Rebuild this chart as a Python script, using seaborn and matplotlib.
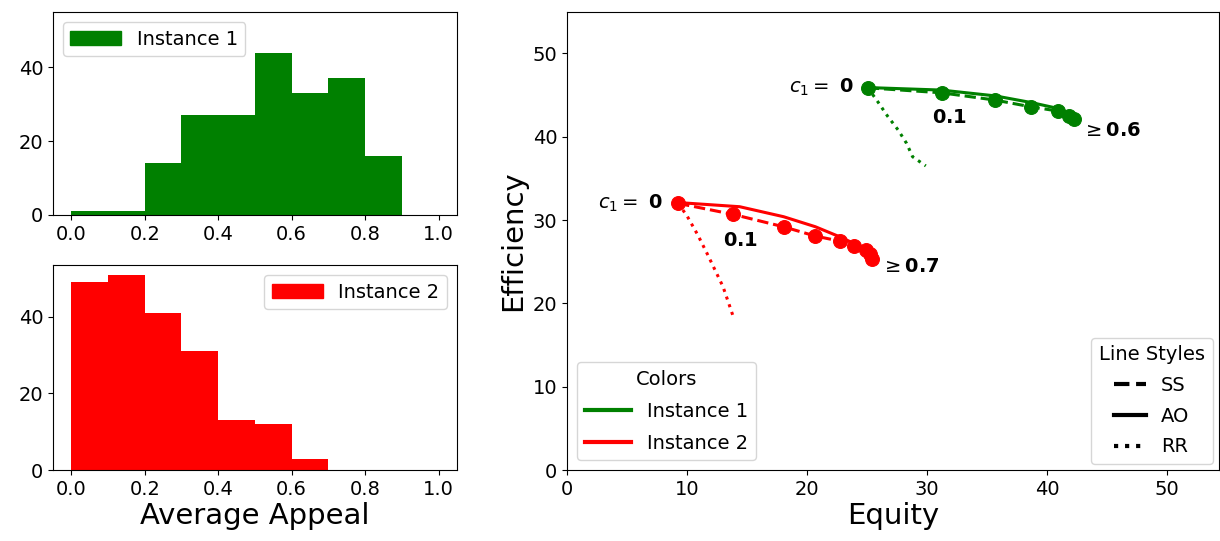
import numpy as np
import matplotlib
matplotlib.use("Agg")
import matplotlib.pyplot as plt
from matplotlib.patches import Patch
from matplotlib.lines import Line2D
import seaborn as sns

# histogram counts per 0.1 bin of average appeal
bin_edges = [0.0, 0.1, 0.2, 0.3, 0.4, 0.5, 0.6, 0.7, 0.8, 0.9, 1.0]
counts_1 = [1, 1, 14, 27, 27, 44, 33, 37, 16, 0]
counts_2 = [49, 51, 41, 31, 13, 12, 3, 0, 0, 0]

# instance 1 (green): equity / efficiency
ss1_equity = [25.07, 31.22, 35.67, 38.66, 40.93, 41.85, 42.26]
ss1_eff = [45.87, 45.27, 44.40, 43.59, 43.08, 42.48, 42.12]
ao1_equity = [25.07, 31.2, 35.7, 38.7, 40.9, 41.9, 42.4]
ao1_eff = [45.9, 45.6, 44.9, 44.1, 43.4, 42.8, 42.3]
rr1_equity = [25.07, 25.9, 26.7, 27.6, 28.3, 28.8, 29.9]
rr1_eff = [45.87, 44.2, 42.5, 40.8, 39.2, 37.6, 36.5]

# instance 2 (red)
ss2_equity = [9.26, 13.84, 18.05, 20.69, 22.71, 23.88, 24.93, 25.27, 25.40]
ss2_eff = [32.0, 30.68, 29.19, 28.08, 27.48, 26.91, 26.40, 25.92, 25.28]
ao2_equity = [9.26, 14.39, 18.05, 20.69, 22.71, 23.9, 25.07]
ao2_eff = [32.1, 31.6, 30.4, 29.2, 28.0, 27.2, 26.2]
rr2_equity = [9.26, 10.0, 10.9, 11.7, 12.4, 13.0, 13.5, 13.9]
rr2_eff = [32.0, 30.5, 28.2, 25.9, 23.8, 22.0, 19.9, 18.2]

FS = 14
LFS = 21

fig = plt.figure(figsize=(12.2, 5.41), dpi=100)
ax_top = fig.add_axes([0.0434, 0.6026, 0.3311, 0.3752])
ax_bot = fig.add_axes([0.0434, 0.1312, 0.3311, 0.3789])
ax = fig.add_axes([0.4648, 0.1312, 0.5340, 0.8471])

centers = [(a + b) / 2 for a, b in zip(bin_edges[:-1], bin_edges[1:])]

sns.histplot(x=centers, weights=counts_1, bins=bin_edges, color="green", alpha=1,
             linewidth=0, ax=ax_top)
sns.histplot(x=centers, weights=counts_2, bins=bin_edges, color="red", alpha=1,
             linewidth=0, ax=ax_bot)

for a in (ax_top, ax_bot):
    a.set_xlim(-0.05, 1.05)
    a.set_xticks([0.0, 0.2, 0.4, 0.6, 0.8, 1.0])
    a.set_yticks([0, 20, 40])
    a.set_ylabel("")
    a.set_xlabel("")
    a.tick_params(labelsize=FS)
ax_top.set_ylim(0, 55)
ax_bot.set_ylim(0, 53.55)
ax_bot.set_xlabel("Average Appeal", fontsize=LFS, labelpad=2)

ax_top.legend(handles=[Patch(color="green", label="Instance 1")], loc="upper left",
              fontsize=FS, handlelength=2.6)
ax_bot.legend(handles=[Patch(color="red", label="Instance 2")], loc="upper right",
              fontsize=FS, handlelength=2.6)

# right panel
for col, sx, sy, ax_, ay, rx, ry in [
    ("green", ss1_equity, ss1_eff, ao1_equity, ao1_eff, rr1_equity, rr1_eff),
    ("red", ss2_equity, ss2_eff, ao2_equity, ao2_eff, rr2_equity, rr2_eff),
]:
    sns.lineplot(x=ax_, y=ay, color=col, linestyle="-", linewidth=2.2, sort=False,
                 estimator=None, ax=ax)
    sns.lineplot(x=sx, y=sy, color=col, linestyle="--", linewidth=2.2, marker="o",
                 markersize=10, markeredgecolor=col, sort=False, estimator=None, ax=ax)
    sns.lineplot(x=rx, y=ry, color=col, linestyle=":", linewidth=2.2, sort=False,
                 estimator=None, ax=ax)

ax.text(23.9, 45.9, r"$c_1 =$ $\mathbf{0}$", ha="right", va="center", fontsize=FS)
ax.text(31.86, 42.36, r"$\mathbf{0.1}$", ha="center", va="center", fontsize=FS)
ax.text(42.9, 40.7, r"$\geq\mathbf{0.6}$", ha="left", va="center", fontsize=FS)
ax.text(8.0, 32.0, r"$c_1 =$ $\mathbf{0}$", ha="right", va="center", fontsize=FS)
ax.text(14.5, 27.6, r"$\mathbf{0.1}$", ha="center", va="center", fontsize=FS)
ax.text(26.2, 24.4, r"$\geq\mathbf{0.7}$", ha="left", va="center", fontsize=FS)

ax.set_xlim(0, 54.3)
ax.set_ylim(0, 55)
ax.set_xticks([0, 10, 20, 30, 40, 50])
ax.set_yticks([0, 10, 20, 30, 40, 50])
ax.tick_params(labelsize=FS)
ax.set_xlabel("Equity", fontsize=LFS, labelpad=2)
ax.set_ylabel("Efficiency", fontsize=LFS)

color_handles = [Line2D([0], [0], color="green", lw=3, label="Instance 1"),
                 Line2D([0], [0], color="red", lw=3, label="Instance 2")]
style_handles = [Line2D([0], [0], color="black", lw=3, ls="--", label="SS"),
                 Line2D([0], [0], color="black", lw=3, ls="-", label="AO"),
                 Line2D([0], [0], color="black", lw=3, ls=":", label="RR")]
leg1 = ax.legend(handles=color_handles, title="Colors", loc="lower left",
                 fontsize=FS, title_fontsize=FS, handlelength=2.4, labelspacing=0.65)
ax.add_artist(leg1)
ax.legend(handles=style_handles, title="Line Styles", loc="lower right",
          fontsize=FS, title_fontsize=FS, handlelength=1.6, borderaxespad=0.3,
          labelspacing=0.6)

fig.savefig("out.png", dpi=100)
